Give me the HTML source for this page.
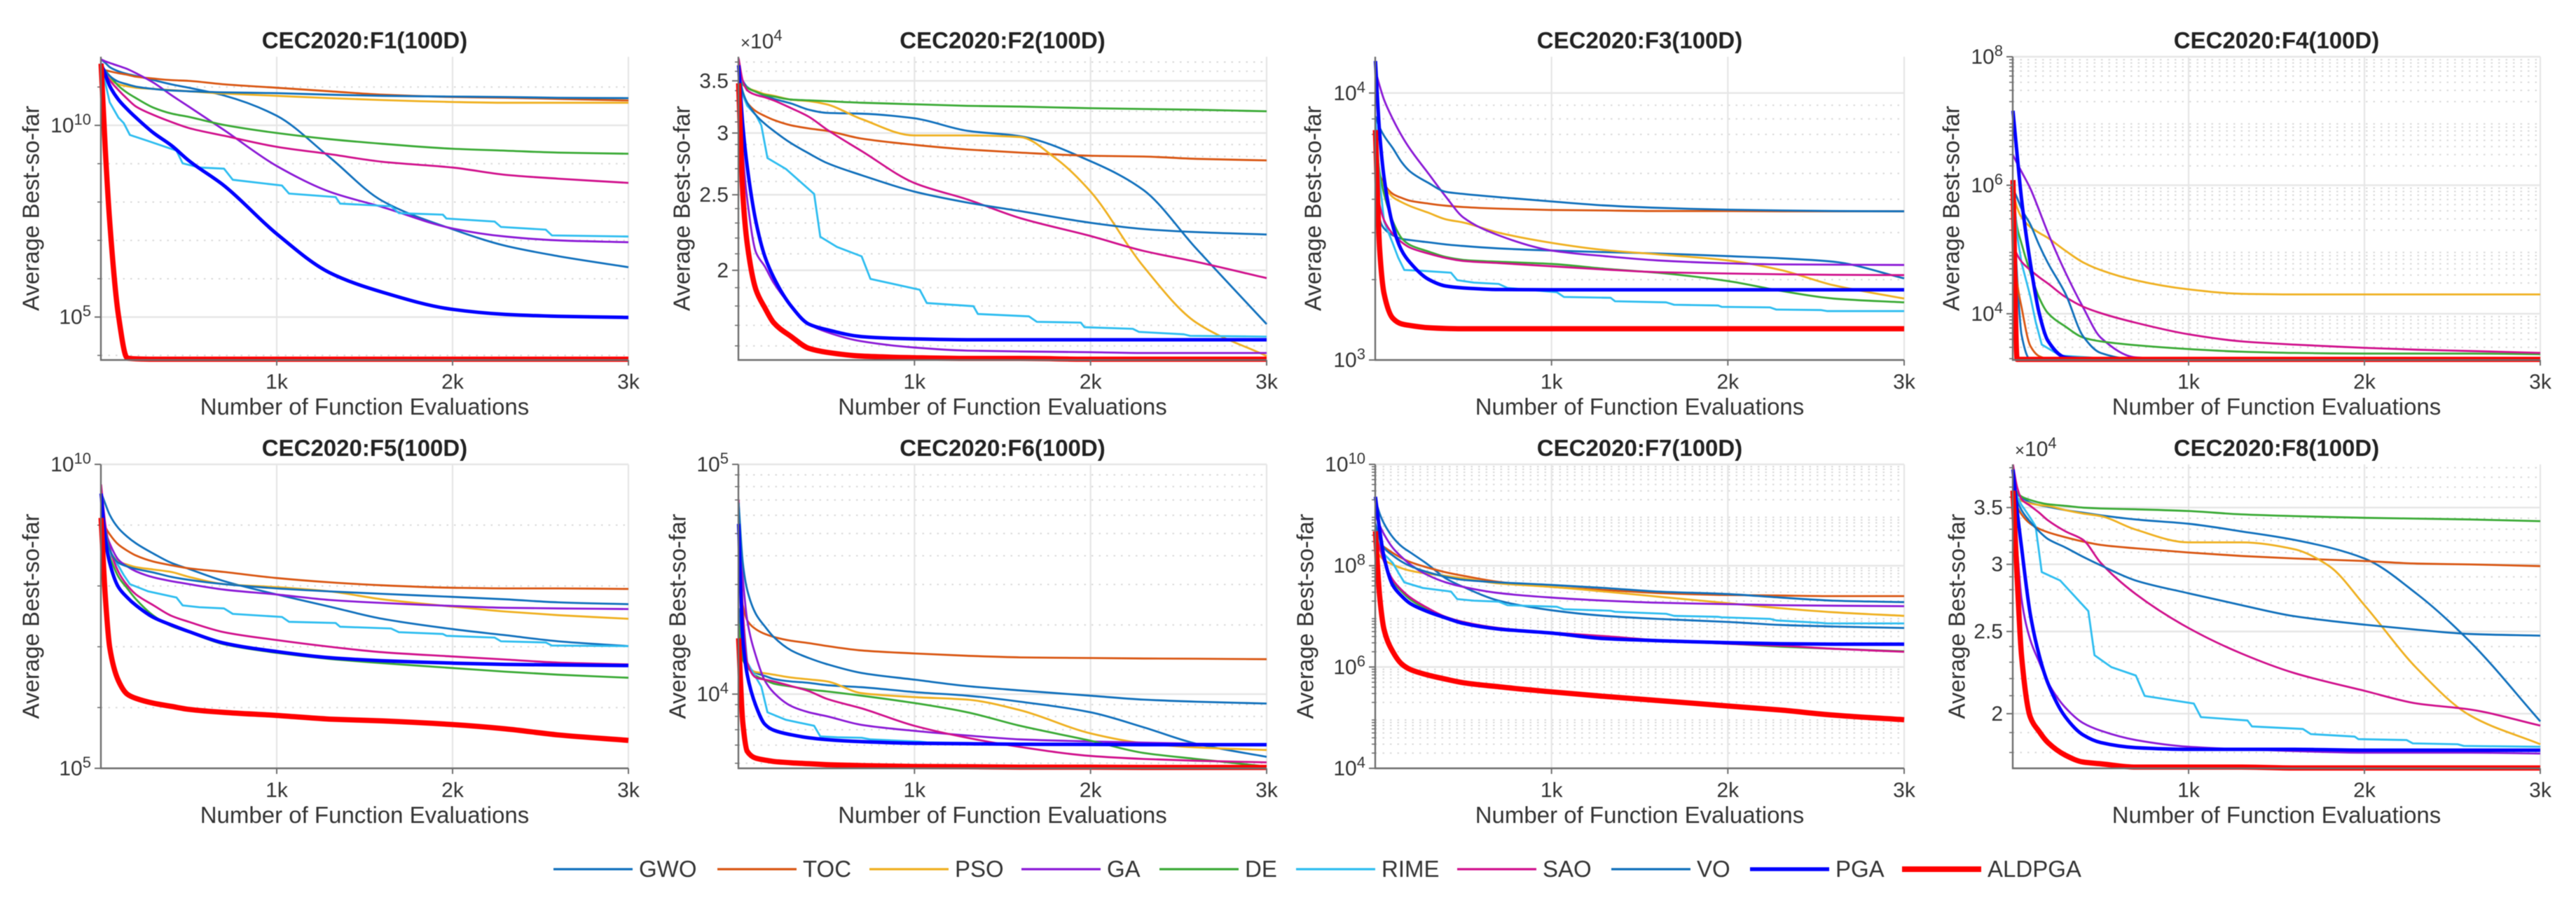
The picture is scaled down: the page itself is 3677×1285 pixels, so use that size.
<!DOCTYPE html>
<html lang="en">
<head>
<meta charset="utf-8">
<title>CEC2020 convergence curves (100D)</title>
<style>
html,body{margin:0;padding:0;background:#fff;}
#figure{display:block;width:3677px;height:1285px;background:#fff;filter:blur(.6px);font-family:"Liberation Sans",Arial,sans-serif;}
</style>
</head>
<body>
<svg id="figure" xmlns="http://www.w3.org/2000/svg" width="3677" height="1285" viewBox="0 0 3677 1285"></svg>
<script>
const evals=[1,25,50,100,150,200,300,400,500,700,1000,1300,1600,2000,2300,2600,3000];
const rimeEvals=[1,25,50,100,130,165,270,430,465,560,700,750,1030,1070,1335,1360,1650,1695,1945,1965,2240,2275,2530,2565,3000];
const kneeEvals=[1,25,50,100,150,200,300,400,500,700,1000,1300,1600,1800,2000,2300,2600,3000];
const algorithms=["GWO","TOC","PSO","GA","DE","RIME","SAO","VO","PGA","ALDPGA"];
const xTicks=[1000,2000,3000];
const xTickLabels=["1k","2k","3k"];

/* All series below: log10 of average best-so-far */
const f1GWO=[11.72,11.63,11.52,11.41,11.34,11.29,11.18,11.07,10.98,10.78,10.25,9.17,8.03,7.29,6.86,6.59,6.30];
const f1TOC=[11.47,11.44,11.41,11.36,11.32,11.27,11.22,11.18,11.16,11.07,10.98,10.89,10.80,10.74,10.72,10.69,10.65];
const f1PSO=[11.54,11.36,11.21,11.07,11.02,10.98,10.95,10.92,10.89,10.83,10.77,10.71,10.66,10.61,10.59,10.59,10.59];
const f1GA=[11.72,11.67,11.63,11.55,11.47,11.36,11.11,10.79,10.49,9.88,8.94,8.27,7.87,7.31,7.10,7.00,6.95];
const f1DE=[11.58,11.43,11.29,11.03,10.85,10.71,10.46,10.31,10.22,10.01,9.80,9.64,9.52,9.39,9.34,9.29,9.26];
const f1RIME=[11.54,11.11,10.60,10.20,10.06,9.75,9.59,9.34,9.01,8.90,8.87,8.58,8.43,8.22,8.13,7.96,7.89,7.71,7.67,7.57,7.49,7.35,7.28,7.13,7.10];
const f1SAO=[11.58,11.36,11.18,10.92,10.69,10.49,10.27,10.09,9.93,9.73,9.44,9.25,9.05,8.90,8.71,8.61,8.50];
const f1VO=[11.58,11.43,11.29,11.14,11.07,11.01,10.95,10.91,10.89,10.86,10.84,10.80,10.77,10.75,10.74,10.72,10.71];
const f1PGA=[11.61,11.32,11.03,10.67,10.42,10.20,9.80,9.48,9.08,8.43,7.17,6.16,5.65,5.20,5.07,5.02,4.99];
const f1ALDPGA=[11.61,9.37,7.49,5.04,3.93,3.91,3.90,3.90,3.90,3.90,3.90,3.90,3.90,3.90,3.90,3.90,3.90];

const f2GWO=[4.555,4.544,4.536,4.530,4.525,4.521,4.515,4.507,4.503,4.502,4.496,4.480,4.473,4.441,4.404,4.329,4.232];
const f2TOC=[4.541,4.526,4.516,4.505,4.499,4.494,4.487,4.483,4.480,4.470,4.462,4.456,4.452,4.448,4.447,4.444,4.442];
const f2PSO=[4.544,4.539,4.535,4.531,4.527,4.525,4.520,4.518,4.514,4.495,4.474,4.474,4.472,4.445,4.402,4.306,4.234,4.191];
const f2GA=[4.551,4.452,4.392,4.324,4.306,4.285,4.255,4.232,4.222,4.210,4.202,4.198,4.197,4.196,4.195,4.195,4.195];
const f2DE=[4.546,4.540,4.535,4.530,4.526,4.524,4.520,4.519,4.518,4.516,4.514,4.512,4.511,4.509,4.508,4.507,4.505];
const f2RIME=[4.562,4.526,4.512,4.500,4.487,4.445,4.431,4.399,4.344,4.331,4.319,4.290,4.276,4.259,4.255,4.245,4.242,4.235,4.234,4.228,4.226,4.222,4.219,4.217,4.216];
const f2SAO=[4.573,4.544,4.532,4.526,4.523,4.519,4.509,4.498,4.482,4.454,4.413,4.392,4.368,4.345,4.326,4.312,4.291];
const f2VO=[4.555,4.530,4.516,4.500,4.489,4.480,4.464,4.451,4.439,4.423,4.402,4.388,4.377,4.362,4.354,4.350,4.347];
const f2PGA=[4.564,4.487,4.434,4.363,4.319,4.292,4.255,4.232,4.225,4.216,4.213,4.212,4.212,4.212,4.212,4.212,4.212];
const f2ALDPGA=[4.541,4.399,4.335,4.276,4.253,4.234,4.216,4.201,4.196,4.191,4.189,4.188,4.188,4.187,4.187,4.187,4.187];

const f3GWO=[3.902,3.529,3.493,3.467,3.454,3.449,3.441,3.433,3.427,3.418,3.410,3.404,3.399,3.389,3.381,3.368,3.306];
const f3TOC=[3.747,3.695,3.659,3.622,3.607,3.596,3.586,3.578,3.573,3.567,3.562,3.560,3.558,3.558,3.557,3.557,3.557];
const f3PSO=[3.747,3.684,3.653,3.610,3.591,3.576,3.552,3.527,3.515,3.477,3.439,3.412,3.396,3.373,3.337,3.280,3.230];
const f3GA=[4.084,4.027,3.975,3.902,3.840,3.788,3.700,3.612,3.534,3.467,3.410,3.389,3.373,3.362,3.358,3.357,3.356];
const f3DE=[3.850,3.705,3.622,3.519,3.456,3.430,3.407,3.386,3.375,3.368,3.360,3.342,3.327,3.296,3.259,3.230,3.216];
const f3RIME=[3.913,3.674,3.519,3.436,3.384,3.337,3.334,3.327,3.299,3.290,3.285,3.270,3.254,3.236,3.233,3.220,3.216,3.207,3.204,3.199,3.197,3.189,3.187,3.183,3.183];
const f3SAO=[3.684,3.581,3.524,3.472,3.441,3.420,3.399,3.382,3.371,3.363,3.351,3.339,3.329,3.324,3.321,3.319,3.318];
const f3VO=[3.913,3.871,3.840,3.793,3.741,3.705,3.664,3.630,3.622,3.610,3.594,3.579,3.570,3.563,3.560,3.558,3.557];
const f3PGA=[4.120,3.850,3.684,3.503,3.410,3.363,3.303,3.277,3.270,3.264,3.263,3.263,3.263,3.263,3.263,3.263,3.263];
const f3ALDPGA=[3.861,3.415,3.249,3.156,3.135,3.129,3.121,3.118,3.117,3.117,3.117,3.117,3.117,3.117,3.117,3.117,3.117];

const f4GWO=[6.08,4.57,3.67,3.29,3.29,3.29,3.29,3.29,3.29,3.29,3.29,3.29,3.29,3.29,3.29,3.29,3.29];
const f4TOC=[5.44,4.49,4.10,3.50,3.34,3.30,3.29,3.29,3.29,3.29,3.29,3.29,3.29,3.29,3.29,3.29,3.29];
const f4PSO=[5.91,5.65,5.50,5.35,5.26,5.18,4.98,4.80,4.68,4.52,4.38,4.31,4.30,4.30,4.30,4.30,4.30];
const f4GA=[6.47,6.34,6.21,5.95,5.61,5.26,4.64,4.10,3.63,3.32,3.29,3.29,3.29,3.29,3.29,3.29,3.29];
const f4DE=[5.87,5.35,5.09,4.64,4.25,4.01,3.80,3.63,3.57,3.51,3.45,3.41,3.39,3.38,3.38,3.38,3.37];
const f4RIME=[6.08,5.22,4.79,4.27,3.88,3.52,3.35,3.32,3.31,3.30,3.29,3.29,3.29,3.29,3.29,3.29,3.29,3.29,3.29,3.29,3.29,3.29,3.29,3.29,3.29];
const f4SAO=[5.09,4.92,4.81,4.68,4.57,4.47,4.26,4.11,4.01,3.86,3.68,3.57,3.52,3.47,3.44,3.42,3.39];
const f4VO=[5.95,5.80,5.63,5.39,5.07,4.79,4.31,3.65,3.39,3.29,3.29,3.29,3.29,3.29,3.29,3.29,3.29];
const f4PGA=[7.16,6.47,5.78,4.79,4.01,3.58,3.32,3.30,3.29,3.29,3.29,3.29,3.29,3.29,3.29,3.29,3.29];
const f4ALDPGA=[6.08,3.29,3.29,3.29,3.29,3.29,3.29,3.29,3.29,3.29,3.29,3.29,3.29,3.29,3.29,3.29,3.29];

const f5GWO=[9.54,9.35,9.17,8.95,8.81,8.70,8.53,8.38,8.28,8.08,7.86,7.66,7.46,7.29,7.19,7.09,7.01];
const f5TOC=[9.12,8.97,8.85,8.68,8.58,8.50,8.40,8.34,8.29,8.23,8.13,8.06,8.01,7.97,7.96,7.96,7.95];
const f5PSO=[9.12,8.77,8.58,8.40,8.35,8.31,8.27,8.23,8.15,8.03,7.98,7.91,7.78,7.66,7.58,7.52,7.46];
const f5GA=[9.12,8.90,8.70,8.43,8.32,8.24,8.14,8.08,8.03,7.94,7.86,7.77,7.72,7.67,7.64,7.63,7.62];
const f5DE=[9.12,8.68,8.48,8.15,7.96,7.78,7.51,7.34,7.24,7.04,6.90,6.80,6.73,6.65,6.59,6.54,6.49];
const f5RIME=[9.12,8.72,8.53,8.33,8.18,8.03,7.91,7.81,7.68,7.65,7.63,7.54,7.49,7.41,7.39,7.33,7.30,7.24,7.21,7.18,7.15,7.09,7.07,7.02,7.01];
const f5SAO=[9.67,9.02,8.63,8.23,8.01,7.86,7.68,7.51,7.41,7.24,7.11,7.00,6.91,6.84,6.79,6.74,6.71];
const f5VO=[9.37,8.92,8.60,8.38,8.32,8.28,8.22,8.15,8.10,8.03,7.96,7.91,7.87,7.82,7.78,7.73,7.70];
const f5PGA=[9.52,8.77,8.38,7.98,7.81,7.68,7.48,7.36,7.25,7.06,6.92,6.82,6.77,6.73,6.71,6.70,6.69];
const f5ALDPGA=[9.12,7.83,6.99,6.44,6.22,6.15,6.07,6.02,5.97,5.92,5.87,5.81,5.78,5.72,5.65,5.55,5.46];

const f6GWO=[4.374,4.164,4.125,4.092,4.079,4.066,4.055,4.049,4.039,4.030,4.009,3.993,3.967,3.921,3.856,3.784,3.727];
const f6TOC=[4.505,4.387,4.321,4.282,4.262,4.249,4.232,4.222,4.210,4.190,4.177,4.167,4.160,4.157,4.155,4.154,4.152];
const f6PSO=[4.269,4.151,4.118,4.096,4.091,4.085,4.072,4.064,4.056,4.004,3.987,3.976,3.930,3.829,3.786,3.768,3.757];
const f6GA=[4.754,4.505,4.321,4.164,4.059,4.007,3.948,3.921,3.904,3.866,3.840,3.820,3.803,3.794,3.789,3.784,3.780];
const f6DE=[4.308,4.151,4.118,4.079,4.062,4.046,4.033,4.020,4.012,3.993,3.961,3.921,3.862,3.797,3.744,3.718,3.685];
const f6RIME=[4.833,4.348,4.138,4.072,4.033,3.921,3.888,3.862,3.816,3.812,3.810,3.803,3.793,3.790,3.787,3.786,3.785,3.784,3.784,3.782,3.782,3.781,3.781,3.781,3.781];
const f6SAO=[4.846,4.374,4.138,4.072,4.063,4.055,4.035,4.013,3.980,3.938,3.862,3.810,3.770,3.731,3.718,3.710,3.703];
const f6VO=[4.833,4.571,4.453,4.348,4.295,4.249,4.190,4.157,4.131,4.092,4.063,4.035,4.016,3.993,3.976,3.967,3.959];
const f6PGA=[4.741,4.243,4.085,3.948,3.869,3.843,3.823,3.810,3.802,3.793,3.786,3.784,3.782,3.781,3.780,3.780,3.780];
const f6ALDPGA=[4.243,3.875,3.751,3.721,3.713,3.707,3.701,3.697,3.693,3.689,3.685,3.684,3.682,3.682,3.681,3.681,3.681];

const f7GWO=[9.30,9.03,8.83,8.56,8.38,8.26,8.02,7.75,7.58,7.31,7.12,7.01,6.95,6.89,6.83,6.80,6.77];
const f7TOC=[8.53,8.44,8.37,8.25,8.15,8.07,7.96,7.87,7.80,7.68,7.58,7.52,7.46,7.42,7.41,7.40,7.40];
const f7PSO=[8.35,8.20,8.11,8.02,7.95,7.90,7.84,7.80,7.75,7.65,7.58,7.49,7.39,7.26,7.16,7.08,7.01];
const f7GA=[9.00,8.80,8.62,8.35,8.17,8.02,7.81,7.67,7.58,7.46,7.37,7.31,7.27,7.24,7.22,7.21,7.20];
const f7DE=[8.65,8.35,8.11,7.69,7.49,7.33,7.13,6.98,6.89,6.75,6.67,6.58,6.52,6.46,6.40,6.36,6.31];
const f7RIME=[8.83,8.47,8.23,8.05,7.87,7.67,7.56,7.49,7.34,7.31,7.29,7.22,7.19,7.14,7.11,7.09,7.05,7.01,6.99,6.98,6.95,6.92,6.87,6.86,6.86];
const f7SAO=[8.65,8.35,8.08,7.72,7.52,7.37,7.16,6.99,6.89,6.77,6.68,6.61,6.53,6.46,6.42,6.36,6.30];
const f7VO=[8.83,8.53,8.35,8.20,8.08,7.99,7.87,7.78,7.72,7.67,7.62,7.56,7.49,7.44,7.37,7.31,7.28];
const f7PGA=[9.36,8.71,8.17,7.61,7.40,7.25,7.09,6.97,6.86,6.75,6.67,6.56,6.52,6.48,6.46,6.45,6.45];
const f7ALDPGA=[8.68,7.40,6.74,6.30,6.06,5.95,5.84,5.76,5.69,5.61,5.51,5.42,5.34,5.23,5.15,5.05,4.96];

const f8GWO=[4.568,4.560,4.556,4.550,4.547,4.545,4.541,4.538,4.535,4.530,4.525,4.516,4.506,4.484,4.442,4.386,4.292];
const f8TOC=[4.557,4.545,4.536,4.525,4.519,4.515,4.509,4.504,4.500,4.496,4.491,4.487,4.484,4.481,4.478,4.477,4.475];
const f8PSO=[4.561,4.556,4.552,4.549,4.547,4.546,4.541,4.537,4.534,4.518,4.503,4.503,4.495,4.475,4.429,4.354,4.299,4.265];
const f8GA=[4.564,4.497,4.436,4.388,4.362,4.338,4.308,4.290,4.281,4.270,4.262,4.259,4.257,4.255,4.255,4.255,4.254];
const f8DE=[4.568,4.562,4.557,4.553,4.550,4.548,4.546,4.544,4.543,4.542,4.540,4.536,4.534,4.532,4.531,4.530,4.528];
const f8RIME=[4.568,4.557,4.547,4.532,4.522,4.468,4.458,4.422,4.370,4.356,4.346,4.322,4.313,4.297,4.293,4.286,4.283,4.277,4.274,4.271,4.270,4.266,4.265,4.263,4.262];
const f8SAO=[4.595,4.568,4.554,4.546,4.538,4.529,4.516,4.506,4.479,4.442,4.402,4.372,4.349,4.328,4.313,4.306,4.287];
const f8VO=[4.564,4.552,4.541,4.527,4.516,4.507,4.497,4.486,4.476,4.458,4.443,4.429,4.416,4.406,4.400,4.395,4.393];
const f8PGA=[4.589,4.540,4.497,4.418,4.370,4.337,4.297,4.276,4.267,4.261,4.259,4.259,4.259,4.258,4.258,4.258,4.258];
const f8ALDPGA=[4.564,4.461,4.369,4.297,4.280,4.267,4.252,4.244,4.242,4.238,4.238,4.238,4.237,4.237,4.237,4.237,4.237];

/* Y ticks (axis values) */
const f1Majors=[1e5,1e10];
const f1Minors=[1e4,1e6,1e7,1e8,1e9,1e11];
const f2Majors=[20000,25000,30000,35000];
const f2Minors=[16000,17000,18000,19000,21000,22000,23000,24000,26000,27000,28000,29000,31000,32000,33000,34000,36000,37000];
const f3Majors=[1e3,1e4];
const f3Minors=[2000,3000,4000,5000,6000,7000,8000,9000];
const f4Majors=[1e4,1e6,1e8];
const f5Majors=[1e5,1e10];
const f5Minors=[1e6,1e7,1e8,1e9];
const f6Majors=[1e4,1e5];
const f6Minors=[5000,6000,7000,8000,9000,20000,30000,40000,50000,60000,70000,80000,90000];
const f7Majors=[1e4,1e6,1e8,1e10];
const f8Majors=[20000,25000,30000,35000];
const f8Minors=[18000,19000,21000,22000,23000,24000,26000,27000,28000,29000,31000,32000,33000,34000,36000,37000,38000,39000];

/* Style and layout */
const seriesColors=["#1070bd","#d95612","#efb020","#8b19d6","#3aaa35","#2dbdf0","#d0108c","#0f6fbb","#0000ff","#ff0000"];
const seriesWidths=[2.8,2.8,2.8,2.8,2.8,2.8,2.8,2.8,5,7.5];
const legendLeft=[790,1024,1241,1458,1655,1850,2080,2300,2498,2715];
const plotLefts=[144,1054,1963,2873];
const plotRights=[897,1808,2718,3626];
const plotTops=[81,663];
const plotBottoms=[514,1097];
const yLabelX=[[44,973,1874,2785],[44,967,1863,2793]];

function subDecades(lo,hi){
  const out=[];
  for(let d=lo;d<hi;d++){for(let m=2;m<=9;m++){out.push(m*Math.pow(10,d));}}
  return out;
}

const panels=[
 {key:"f1",title:"CEC2020:F1(100D)",dom:[3.88,11.79],majors:f1Majors,minors:f1Minors,factor:0,series:[f1GWO,f1TOC,f1PSO,f1GA,f1DE,f1RIME,f1SAO,f1VO,f1PGA,f1ALDPGA]},
 {key:"f2",title:"CEC2020:F2(100D)",dom:[4.186,4.575],majors:f2Majors,minors:f2Minors,factor:1e4,series:[f2GWO,f2TOC,f2PSO,f2GA,f2DE,f2RIME,f2SAO,f2VO,f2PGA,f2ALDPGA]},
 {key:"f3",title:"CEC2020:F3(100D)",dom:[3,4.136],majors:f3Majors,minors:f3Minors,factor:0,series:[f3GWO,f3TOC,f3PSO,f3GA,f3DE,f3RIME,f3SAO,f3VO,f3PGA,f3ALDPGA]},
 {key:"f4",title:"CEC2020:F4(100D)",dom:[3.28,8],majors:f4Majors,minors:subDecades(3,8),factor:0,series:[f4GWO,f4TOC,f4PSO,f4GA,f4DE,f4RIME,f4SAO,f4VO,f4PGA,f4ALDPGA]},
 {key:"f5",title:"CEC2020:F5(100D)",dom:[5,10],majors:f5Majors,minors:f5Minors,factor:0,series:[f5GWO,f5TOC,f5PSO,f5GA,f5DE,f5RIME,f5SAO,f5VO,f5PGA,f5ALDPGA]},
 {key:"f6",title:"CEC2020:F6(100D)",dom:[3.677,5],majors:f6Majors,minors:f6Minors,factor:0,series:[f6GWO,f6TOC,f6PSO,f6GA,f6DE,f6RIME,f6SAO,f6VO,f6PGA,f6ALDPGA]},
 {key:"f7",title:"CEC2020:F7(100D)",dom:[4,10],majors:f7Majors,minors:subDecades(4,10),factor:0,series:[f7GWO,f7TOC,f7PSO,f7GA,f7DE,f7RIME,f7SAO,f7VO,f7PGA,f7ALDPGA]},
 {key:"f8",title:"CEC2020:F8(100D)",dom:[4.2366,4.595],majors:f8Majors,minors:f8Minors,factor:1e4,series:[f8GWO,f8TOC,f8PSO,f8GA,f8DE,f8RIME,f8SAO,f8VO,f8PGA,f8ALDPGA]}
];

const NS="http://www.w3.org/2000/svg";
const fig=document.getElementById("figure");
function add(parent,tag,attrs,text){
  const e=document.createElementNS(NS,tag);
  for(const k in attrs){e.setAttribute(k,attrs[k]);}
  if(text!==undefined){e.textContent=text;}
  parent.appendChild(e);
  return e;
}
function evalsFor(values){
  if(values.length===rimeEvals.length){return rimeEvals;}
  if(values.length===kneeEvals.length){return kneeEvals;}
  return evals;
}
/* Straight segments for the stair-stepped series */
function polyPath(px,py){
  return px.map(function(x,i){return (i?"L":"M")+x.toFixed(1)+" "+py[i].toFixed(1);}).join("");
}
/* Monotone cubic (Fritsch-Carlson): smooth curve without overshoot */
function smoothPath(px,py){
  const n=px.length, h=[], s=[], m=[];
  for(let i=0;i<n-1;i++){h[i]=px[i+1]-px[i];s[i]=(py[i+1]-py[i])/h[i];}
  m[0]=s[0];m[n-1]=s[n-2];
  for(let i=1;i<n-1;i++){
    if(s[i-1]*s[i]<=0){m[i]=0;}
    else{
      const w1=2*h[i]+h[i-1], w2=h[i]+2*h[i-1];
      m[i]=(w1+w2)/(w1/s[i-1]+w2/s[i]);
    }
  }
  let d="M"+px[0].toFixed(1)+" "+py[0].toFixed(1);
  for(let i=0;i<n-1;i++){
    d+="C"+(px[i]+h[i]/3).toFixed(1)+" "+(py[i]+m[i]*h[i]/3).toFixed(1)+" "
      +(px[i+1]-h[i]/3).toFixed(1)+" "+(py[i+1]-m[i+1]*h[i]/3).toFixed(1)+" "
      +px[i+1].toFixed(1)+" "+py[i+1].toFixed(1);
  }
  return d;
}

panels.forEach(function(p,idx){
  const row=idx<4?0:1, col=idx%4;
  const L=plotLefts[col],R=plotRights[col],T=plotTops[row],B=plotBottoms[row];
  const xScale=function(v){return L+(v/3000)*(R-L);};
  const yScale=function(lg){return B-(lg-p.dom[0])/(p.dom[1]-p.dom[0])*(B-T);};
  const inRange=function(v){const l=Math.log10(v);return l>=p.dom[0]-1e-6&&l<=p.dom[1]+1e-6;};

  const g=add(fig,"g",{});
  
  

  p.minors.filter(inRange).forEach(function(v){
    const y=yScale(Math.log10(v));
    const grid=add(g,"line",{x1:L,x2:R,y1:y,y2:y,stroke:"#d9d9d9","stroke-width":2,"stroke-dasharray":"2.5 8"});
    
    
    const tick=add(g,"line",{x1:L-5,x2:L,y1:y,y2:y,stroke:"#6e6e6e","stroke-width":1.6});
    
    
  });
  p.majors.filter(inRange).forEach(function(v){
    const y=yScale(Math.log10(v));
    const grid=add(g,"line",{x1:L,x2:R,y1:y,y2:y,stroke:"#e6e6e6","stroke-width":2.4});
    
    
  });
  xTicks.forEach(function(v){
    const x=xScale(v);
    const grid=add(g,"line",{x1:x,x2:x,y1:T,y2:B,stroke:"#e6e6e6","stroke-width":2.2});
    
    
  });

  const title=add(g,"text",{x:(L+R)/2,y:T-12,"text-anchor":"middle","font-size":33,"font-weight":"bold",fill:"#222"},p.title);
  
  

  const xTitle=add(g,"text",{x:(L+R)/2,y:B+78,"text-anchor":"middle","font-size":33,fill:"#333"},"Number of Function Evaluations");
  
  

  const cx=yLabelX[row][col], cy=(T+B)/2;
  const yTitle=add(g,"text",{x:cx,y:cy,"text-anchor":"middle","dominant-baseline":"central","font-size":33,fill:"#333",transform:"rotate(-90 "+cx+" "+cy+")"},"Average Best-so-far");
  
  

  p.series.forEach(function(values,si){
    const xs=evalsFor(values);
    const px=values.map(function(v,i){return xScale(xs[i]);});
    const py=values.map(function(v){return yScale(v);});
    const d=xs===rimeEvals?polyPath(px,py):smoothPath(px,py);
    const line=add(g,"path",{d:d,fill:"none",stroke:seriesColors[si],"stroke-width":seriesWidths[si],"stroke-linejoin":"round","stroke-linecap":"butt"});
    
    
  });

  const yAxis=add(g,"line",{x1:L,x2:L,y1:T,y2:B+1,stroke:"#6e6e6e","stroke-width":2.4});
  
  
  const xAxis=add(g,"line",{x1:L-1,x2:R,y1:B,y2:B,stroke:"#6e6e6e","stroke-width":2.4});
  
  

  xTicks.forEach(function(v,i){
    const x=xScale(v);
    const tick=add(g,"line",{x1:x,x2:x,y1:B,y2:B+8,stroke:"#6e6e6e","stroke-width":2});
    
    
    const lab=add(g,"text",{x:x,y:B+41,"text-anchor":"middle","font-size":30,fill:"#333"},xTickLabels[i]);
    
    
  });

  p.majors.filter(inRange).forEach(function(v){
    const y=yScale(Math.log10(v));
    const tick=add(g,"line",{x1:L-9,x2:L,y1:y,y2:y,stroke:"#6e6e6e","stroke-width":2});
    
    
    const lab=add(g,"text",{x:L-14,y:y+10,"text-anchor":"end","font-size":30,fill:"#333"});
    
    
    if(p.factor){
      lab.textContent=String(v/p.factor);
    }else{
      add(lab,"tspan",{},"10");
      add(lab,"tspan",{dy:-11,"font-size":22},String(Math.round(Math.log10(v))));
    }
  });

  if(p.factor){
    const mult=add(g,"text",{x:L+3,y:T-12,"font-size":30,fill:"#333"});
    
    
    add(mult,"tspan",{"font-size":24},"\u00d7");
    add(mult,"tspan",{},"10");
    add(mult,"tspan",{dy:-11,"font-size":22},"4");
  }
});

const legend=add(fig,"g",{});


algorithms.forEach(function(name,i){
  const x=legendLeft[i];
  const line=add(legend,"line",{x1:x,x2:x+113,y1:1241,y2:1241,stroke:seriesColors[i],"stroke-width":seriesWidths[i]+0.4});
  
  
  const text=add(legend,"text",{x:x+122,y:1252,"font-size":33,fill:"#333"},name);
  
  
});
</script>
</body>
</html>
